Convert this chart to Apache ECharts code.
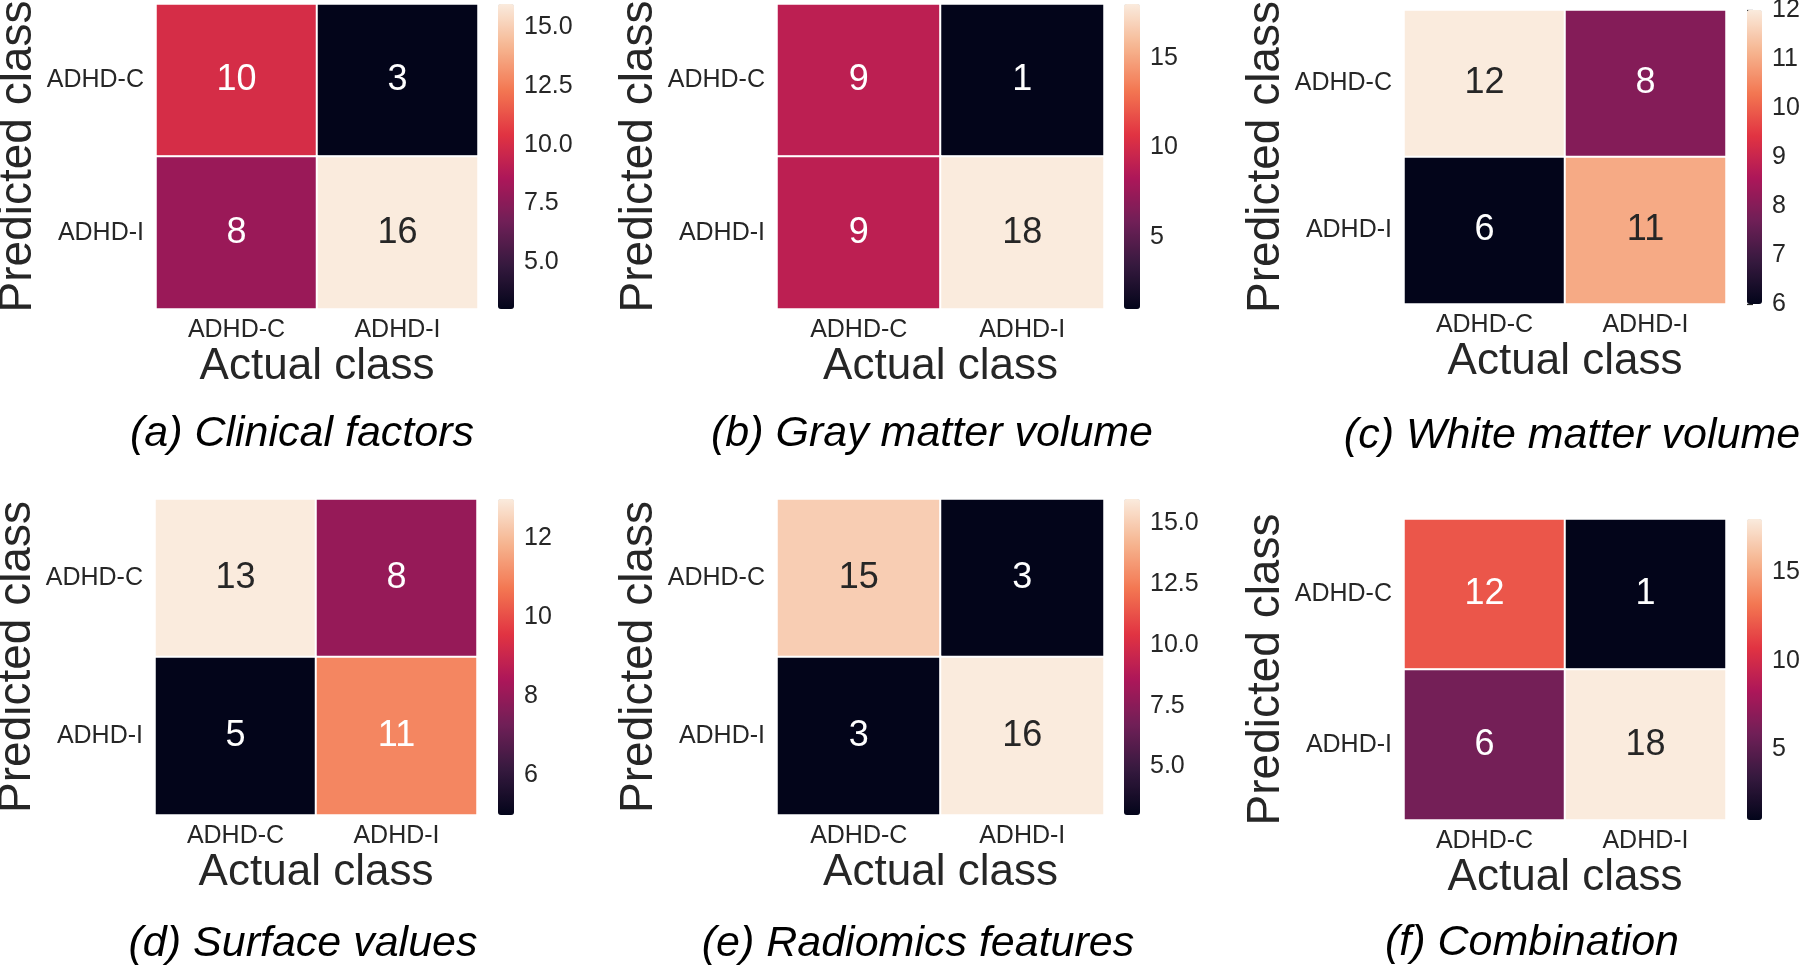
<!DOCTYPE html>
<html>
<head>
<meta charset="utf-8">
<script src="https://cdn.jsdelivr.net/npm/echarts@6/dist/echarts.min.js"></script>
<style>
  html, body { margin: 0; padding: 0; background: #fff; }
  #myChart { width: 1800px; height: 968px; }
</style>
</head>
<body>
<div id="myChart"></div>
<script>
// categories shared by every confusion matrix
const classes = ['ADHD-C', 'ADHD-I']

// rows = predicted class, cols = actual class
const clinical = [[10, 3], [8, 16]]
const grayMatter = [[9, 1], [9, 18]]
const whiteMatter = [[12, 8], [6, 11]]
const surface = [[13, 8], [5, 11]]
const radiomics = [[15, 3], [3, 16]]
const combination = [[12, 1], [6, 18]]

// colorbar tick labels
const ticksA = [5, 7.5, 10, 12.5, 15]
const ticksB = [5, 10, 15]
const ticksC = [6, 7, 8, 9, 10, 11, 12]
const ticksD = [6, 8, 10, 12]
const ticksE = [5, 7.5, 10, 12.5, 15]
const ticksF = [5, 10, 15]

const captions = [
  '(a) Clinical factors', '(b) Gray matter volume', '(c) White matter volume',
  '(d) Surface values', '(e) Radiomics features', '(f) Combination'
]

// seaborn "rocket"
const rocket = ['#03051a', '#35193e', '#701f57', '#ad1759', '#e13342', '#f37651', '#f6b48f', '#faebdd']

const FONT = '"Liberation Sans", Arial, Helvetica, sans-serif'
const INK = '#262626'

// panel boxes: heatmap grid + colorbar position, caption centre
const panels = [
  { m: clinical, ticks: ticksA, dec: 1, left: 156, top: 4, w: 322, h: 305, cbLeft: 498, cbW: 16, cap: [302, 434] },
  { m: grayMatter, ticks: ticksB, dec: 0, left: 777, top: 4, w: 327, h: 305, cbLeft: 1124, cbW: 16, cap: [932, 434] },
  { m: whiteMatter, ticks: ticksC, dec: 0, left: 1404, top: 10, w: 322, h: 294, cbLeft: 1747, cbW: 15, cap: [1572, 436] },
  { m: surface, ticks: ticksD, dec: 0, left: 155, top: 499, w: 322, h: 316, cbLeft: 498, cbW: 16, cap: [303, 944] },
  { m: radiomics, ticks: ticksE, dec: 1, left: 777, top: 499, w: 327, h: 316, cbLeft: 1124, cbW: 16, cap: [918, 944] },
  { m: combination, ticks: ticksF, dec: 0, left: 1404, top: 519, w: 322, h: 301, cbLeft: 1747, cbW: 15, cap: [1532, 943] }
]

const grid = []
const xAxis = []
const yAxis = []
const series = []
const visualMap = []
const graphic = []

panels.forEach((p, i) => {
  const flat = p.m[0].concat(p.m[1])
  const vmin = Math.min(...flat)
  const vmax = Math.max(...flat)
  const data = []
  p.m.forEach((row, r) => {
    row.forEach((v, c) => {
      const t = (v - vmin) / (vmax - vmin)
      data.push({ value: [c, r, v], label: { color: t > 0.8 ? INK : '#fff' } })
    })
  })

  // heatmap grid (outerBoundsMode none so v6 doesn't push the grid in)
  grid.push({ left: p.left, top: p.top, width: p.w, height: p.h, outerBoundsMode: 'none' })
  xAxis.push({
    gridIndex: 2 * i,
    type: 'category',
    data: classes,
    name: 'Actual class',
    nameLocation: 'middle',
    nameGap: 36,
    nameTextStyle: { fontSize: 44, color: INK, fontFamily: FONT },
    axisLine: { show: false },
    axisTick: { show: false },
    splitLine: { show: false },
    axisLabel: { fontSize: 25, color: INK, fontFamily: FONT, margin: 9 }
  })
  yAxis.push({
    gridIndex: 2 * i,
    type: 'category',
    data: classes,
    inverse: true,
    name: 'Predicted class',
    nameLocation: 'middle',
    nameGap: 115,
    nameTextStyle: { fontSize: 46, color: INK, fontFamily: FONT },
    axisLine: { show: false },
    axisTick: { show: false },
    splitLine: { show: false },
    axisLabel: { fontSize: 25, color: INK, fontFamily: FONT, margin: 12 }
  })
  series.push({
    type: 'heatmap',
    xAxisIndex: 2 * i,
    yAxisIndex: 2 * i,
    data: data,
    itemStyle: { borderColor: '#fff', borderWidth: 2 },
    label: { show: true, fontSize: 36, fontFamily: FONT, formatter: (d) => d.value[2] },
    emphasis: { disabled: true }
  })
  visualMap.push({
    type: 'continuous',
    seriesIndex: i,
    dimension: 2,
    min: vmin,
    max: vmax,
    calculable: false,
    hoverLink: false,
    orient: 'vertical',
    left: p.cbLeft,
    top: p.top,
    itemWidth: p.cbW,
    itemHeight: p.h,
    padding: 0,
    inRange: { color: rocket }
  })

  // colorbar tick axis sitting on the visualMap bar
  grid.push({ left: p.cbLeft, top: p.top, width: p.cbW, height: p.h, outerBoundsMode: 'none' })
  xAxis.push({ gridIndex: 2 * i + 1, type: 'value', show: false })
  yAxis.push({
    gridIndex: 2 * i + 1,
    type: 'value',
    position: 'right',
    min: vmin,
    max: vmax,
    axisLine: { show: false },
    splitLine: { show: false },
    axisTick: { show: true, length: 6, customValues: p.ticks, lineStyle: { color: INK, width: 1.2 } },
    axisLabel: {
      customValues: p.ticks,
      margin: 10,
      fontSize: 25,
      color: INK,
      fontFamily: FONT,
      formatter: (v) => Number(v).toFixed(p.dec)
    }
  })

  graphic.push({
    type: 'text',
    x: p.cap[0],
    y: p.cap[1],
    style: {
      text: captions[i],
      font: 'italic 43px ' + FONT,
      fill: '#000',
      textAlign: 'center',
      textVerticalAlign: 'middle'
    }
  })
})

const myOption = {
  backgroundColor: '#fff',
  animation: false,
  grid: grid,
  xAxis: xAxis,
  yAxis: yAxis,
  visualMap: visualMap,
  series: series,
  graphic: graphic
}

const myChart = echarts.init(document.getElementById('myChart'))
myChart.setOption(myOption)
</script>
</body>
</html>
